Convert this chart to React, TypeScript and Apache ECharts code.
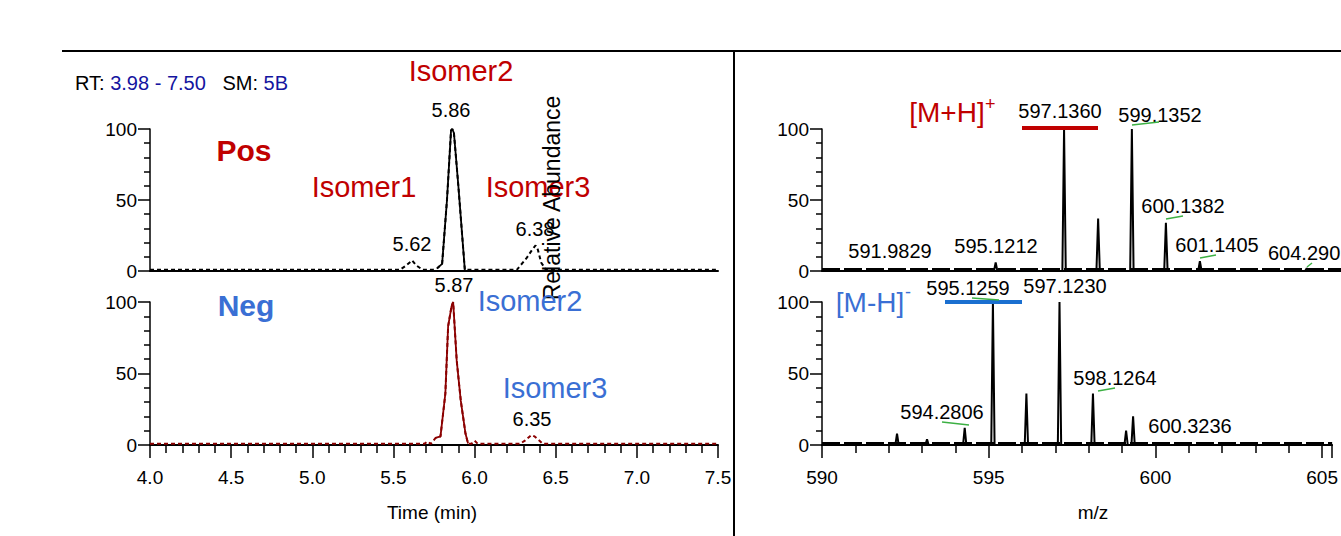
import React, { useEffect, useRef } from "react";
import * as echarts from "echarts";

// ---- Chromatogram data (time in min, relative abundance) ----
const posTime = [4.0, 5.54, 5.58, 5.615, 5.64, 5.68, 5.74, 5.77, 5.8, 5.83, 5.855, 5.863, 5.873, 5.9, 5.94, 6.0, 6.26, 6.32, 6.355, 6.376, 6.39, 6.41, 6.44, 7.5];
const posInt = [0.8, 0.8, 4, 7.5, 4, 0.8, 0.8, 2, 5, 50, 99, 100, 97, 60, 0.8, 0.8, 0.8, 9, 15, 18, 15, 6, 0.8, 0.8];
const posSolid = [7, 14]; // index range of the solid main peak

const negTime = [4.0, 5.69, 5.71, 5.73, 5.76, 5.79, 5.82, 5.837, 5.858, 5.868, 5.89, 5.915, 5.944, 5.96, 5.98, 6.0, 6.02, 6.28, 6.31, 6.35, 6.37, 6.4, 6.42, 7.5];
const negInt = [0.8, 0.8, 2.5, 0.8, 5, 6, 36, 83, 97, 100, 59, 31, 8, 1, 0.8, 3, 0.8, 0.8, 3, 7, 6, 3, 0.8, 0.8];
const negSolid = [4, 13];

// ---- Mass spectra (m/z, relative abundance) ----
const posMz = [595.12, 597.136, 598.14, 599.135, 600.138, 601.14, 604.29];
const posAb = [6, 100, 37, 100, 34, 7, 2];
const negMz = [592.25, 593.15, 594.28, 595.126, 596.13, 597.123, 598.126, 599.12, 599.33];
const negAb = [8, 4, 12, 100, 36, 100, 36, 10, 20];

// ---- Axis ticks ----
const yTicks = [0, 50, 100];
const timeRange = [4.0, 7.5];
const mzRange = [590, 605.3];

const NARROW = "'Liberation Sans Narrow', 'Arial Narrow', 'Liberation Sans', sans-serif";
const SANS = "'Liberation Sans', Arial, sans-serif";
const RED = "#c00000";
const BLUE = "#3a6fd4";
const GREEN = "#3cb043";
const DARKRED = "#8b0000";

function stickPoints(mz: number[], ab: number[]) {
  const pts: (number | null)[][] = [];
  mz.forEach((m, i) => {
    pts.push([m - 0.05, 0]);
    pts.push([m, ab[i]]);
    pts.push([m + 0.05, 0]);
  });
  return pts;
}

export default function App() {
  const ref = useRef<HTMLDivElement>(null);
  useEffect(() => {
    document.body.style.margin = "0";
    const chart = echarts.init(ref.current!, undefined, { renderer: "svg" });
    const grids = [
      { left: 150, top: 129, width: 568, height: 142 },
      { left: 150, top: 302, width: 568, height: 143 },
      { left: 822, top: 129, width: 519, height: 142 },
      { left: 822, top: 302, width: 519, height: 143 },
    ];
    const yAxis = grids.map((_, i) => ({
      type: "value",
      gridIndex: i,
      min: yTicks[0],
      max: yTicks[yTicks.length - 1],
      interval: yTicks[1] - yTicks[0],
      axisLine: { show: true, lineStyle: { color: "#000", width: 1.5 } },
      axisTick: { show: true, length: 12, lineStyle: { color: "#000", width: 1.5 } },
      minorTick: { show: true, splitNumber: 5, length: 6, lineStyle: { color: "#000", width: 1.5 } },
      splitLine: { show: false },
      axisLabel: { color: "#000", fontSize: 19, fontFamily: NARROW, margin: 13 },
    }));
    const mkX = (i: number, range: number[], interval: number, labels: boolean) => ({
      type: "value",
      gridIndex: i,
      min: range[0],
      max: range[1],
      interval,
      axisLine: { show: true, onZero: false, lineStyle: { color: "#000", width: 2 } },
      axisTick: { show: labels, length: 13, lineStyle: { color: "#000", width: 1.5 } },
      minorTick: { show: labels, splitNumber: 5, length: 8, lineStyle: { color: "#000", width: 1.5 } },
      splitLine: { show: false },
      axisLabel: {
        show: labels,
        color: "#000",
        fontSize: 19,
        fontFamily: NARROW,
        margin: 23,
        showMaxLabel: range[1] === 7.5,
        formatter: (v: number) => (interval < 1 ? v.toFixed(1) : String(v)),
      },
    });
    const xAxis = [
      mkX(0, timeRange, 0.5, false),
      mkX(1, timeRange, 0.5, true),
      mkX(2, mzRange, 5, false),
      mkX(3, mzRange, 5, true),
    ];
    const line = (i: number, data: any, color: string, type: any, width: number) => ({
      type: "line",
      xAxisIndex: i,
      yAxisIndex: i,
      data,
      showSymbol: false,
      symbol: "none",
      silent: true,
      lineStyle: { color, width, type },
      z: 3,
    });
    const zip = (a: number[], b: number[]) => a.map((v, k) => [v, b[k]]);
    const posAll = zip(posTime, posInt);
    const negAll = zip(negTime, negInt);
    const series = [
      line(0, posAll, "#000", [4, 3], 2),
      line(0, posAll.slice(posSolid[0], posSolid[1] + 1), "#000", "solid", 1.8),
      line(1, negAll, DARKRED, [4, 3], 2),
      line(1, negAll.slice(negSolid[0], negSolid[1] + 1), DARKRED, "solid", 1.8),
      line(2, [[mzRange[0], 1.3], [mzRange[1], 1.3]], "#000", [18, 4], 2.5),
      line(2, stickPoints(posMz, posAb), "#000", "solid", 2),
      line(3, [[mzRange[0], 1.3], [mzRange[1], 1.3]], "#000", [18, 4], 2.5),
      line(3, stickPoints(negMz, negAb), "#000", "solid", 2),
    ];

    const txt = (text: string, x: number, y: number, fill: string, font: string, align = "center", extra: any = {}) => ({
      type: "text",
      x,
      y,
      ...extra,
      style: { text, fill, font, align, verticalAlign: "middle" },
      z: 10,
    });
    const ln = (x1: number, y1: number, x2: number, y2: number, stroke: string, w: number) => ({
      type: "line",
      shape: { x1, y1, x2, y2 },
      style: { stroke, lineWidth: w },
      z: 10,
    });
    const f = (size: number, fam = SANS, weight = "normal") => `${weight} ${size}px ${fam}`;

    const graphic = [
      ln(62, 51, 1341, 51, "#000", 2),
      ln(734, 50, 734, 536, "#000", 2),
      {
        type: "text",
        x: 75,
        y: 83,
        style: {
          text: "{a|RT: }{b|3.98 - 7.50}{a|   SM: }{b|5B}",
          verticalAlign: "middle",
          rich: {
            a: { fill: "#000", fontSize: 20, fontFamily: NARROW },
            b: { fill: "#1414a0", fontSize: 20, fontFamily: NARROW },
          },
        },
        z: 10,
      },
      txt("Isomer2", 461, 71, RED, f(29)),
      txt("5.86", 451, 110, "#000", f(20, NARROW)),
      txt("Pos", 244, 150, RED, f(30, SANS, "bold")),
      txt("Isomer1", 364, 187, RED, f(29)),
      txt("Isomer3", 538, 187, RED, f(29)),
      txt("5.62", 412, 244, "#000", f(20, NARROW)),
      txt("6.38", 535, 229, "#000", f(20, NARROW)),
      txt("Relative Abundance", 552, 198, "#000", f(23), "center", { rotation: Math.PI / 2 }),
      txt("5.87", 454, 285, "#000", f(20, NARROW)),
      txt("Neg", 246, 305, BLUE, f(30, SANS, "bold")),
      txt("Isomer2", 530, 301, BLUE, f(29)),
      txt("Isomer3", 555, 388, BLUE, f(29)),
      txt("6.35", 532, 419, "#000", f(20, NARROW)),
      txt("Time (min)", 432, 512, "#000", f(19, NARROW)),
      // right panel
      txt("[M+H]", 947, 112, RED, f(28)),
      txt("+", 985, 104, RED, f(18), "left"),
      { type: "rect", shape: { x: 1022, y: 126, width: 76, height: 4 }, style: { fill: RED }, z: 10 },
      txt("597.1360", 1060, 111, "#000", f(20, NARROW)),
      txt("599.1352", 1160, 115, "#000", f(20, NARROW)),
      ln(1132, 125, 1159, 122, GREEN, 1.5),
      txt("600.1382", 1183, 206, "#000", f(20, NARROW)),
      ln(1166, 219, 1183, 216, GREEN, 1.5),
      txt("591.9829", 890, 251, "#000", f(20, NARROW)),
      txt("595.1212", 996, 246, "#000", f(20, NARROW)),
      txt("601.1405", 1217, 245, "#000", f(20, NARROW)),
      ln(1200, 258, 1216, 255, GREEN, 1.5),
      txt("604.290", 1268, 253, "#000", f(20, NARROW), "left"),
      ln(1307, 267, 1312, 263, GREEN, 1.5),
      txt("[M-H]", 870, 302, BLUE, f(28)),
      txt("-", 905, 292, BLUE, f(18), "left"),
      { type: "rect", shape: { x: 945, y: 300, width: 77, height: 4 }, style: { fill: "#1a6fd0" }, z: 10 },
      txt("595.1259", 968, 288, "#000", f(20, NARROW)),
      ln(972, 298, 999, 300, GREEN, 1.5),
      txt("597.1230", 1065, 286, "#000", f(20, NARROW)),
      txt("598.1264", 1115, 378, "#000", f(20, NARROW)),
      ln(1098, 391, 1115, 388, GREEN, 1.5),
      txt("594.2806", 942, 412, "#000", f(20, NARROW)),
      ln(942, 422, 969, 425, GREEN, 1.5),
      txt("600.3236", 1190, 426, "#000", f(20, NARROW)),
      txt("m/z", 1093, 512, "#000", f(19, NARROW)),
    ];

    chart.setOption({
      animation: false,
      grid: grids.map((g) => ({ ...g, containLabel: false })),
      xAxis,
      yAxis,
      series,
      graphic,
    });
    return () => chart.dispose();
  }, []);
  return <div ref={ref} style={{ width: 1341, height: 536 }} />;
}
